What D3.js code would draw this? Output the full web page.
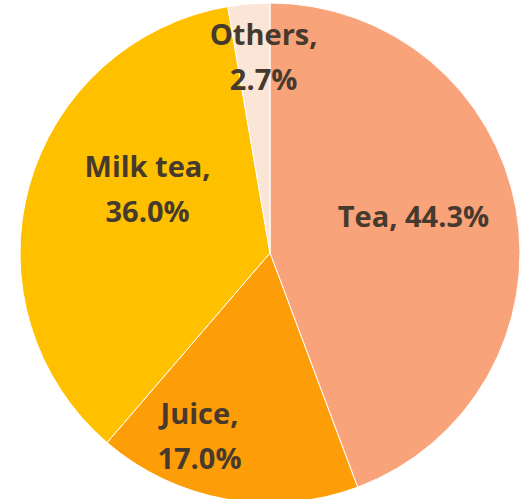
<!DOCTYPE html>
<html lang="en">
<head>
  <meta charset="UTF-8">
  <title>Drinks share</title>
  <style>
    html, body { margin: 0; padding: 0; background: #fff; overflow: hidden; }
  </style>
</head>
<body>
  <script src="https://d3js.org/d3.v7.min.js"></script>
  <script>
    const categories = ['Tea', 'Juice', 'Milk tea', 'Others']
    const shares = [44.3, 17.0, 36.0, 2.7]
    const colors = ['#F9A37A', '#FD9D08', '#FFC000', '#FBE5D6']

    // label placement: distance from centre and a little angular nudge (deg)
    const labelRadius = [148, 196, 138, 196]
    const labelNudge = [-4, 11, 12, 3]

    const width = 522
    const height = 499
    const cx = 270
    const cy = 253
    const radius = 250

    const ds = categories.map((c, i) => ({ name: c, value: shares[i], i }))

    const svg = d3.select('body')
      .append('svg')
      .attr('width', width)
      .attr('height', height)

    const g = svg.append('g')
      .attr('transform', `translate(${cx},${cy})`)

    const pie = d3.pie()
      .sort(null)
      .value(d => d.value)

    const arc = d3.arc()
      .innerRadius(0)
      .outerRadius(radius)

    const arcs = pie(ds)

    g.selectAll('path')
      .data(arcs)
      .enter()
      .append('path')
      .attr('d', arc)
      .attr('fill', d => colors[d.data.i])
      .attr('stroke', '#fff')
      .attr('stroke-width', 1)

    const labels = g.selectAll('text')
      .data(arcs)
      .enter()
      .append('text')
      .attr('transform', d => {
        const a = (d.startAngle + d.endAngle) / 2 + labelNudge[d.data.i] * Math.PI / 180
        const r = labelRadius[d.data.i]
        return `translate(${r * Math.sin(a)},${-r * Math.cos(a)})`
      })
      .attr('text-anchor', 'middle')
      .style('font-family', '"Open Sans", "Noto Sans", sans-serif')
      .style('font-weight', 'bold')
      .style('font-size', '29px')
      .attr('fill', '#463a2e')

    labels.each(function (d) {
      const t = d3.select(this)
      const pct = d.data.value.toFixed(1) + '%'
      if (d.data.name === 'Tea') {
        t.append('tspan').attr('x', 0).attr('dy', '0.35em').text(`${d.data.name}, ${pct}`)
      } else {
        t.append('tspan').attr('x', 0).attr('dy', '-0.42em').text(d.data.name + ',')
        t.append('tspan').attr('x', 0).attr('dy', '1.55em').text(pct)
      }
    })
  </script>
</body>
</html>
